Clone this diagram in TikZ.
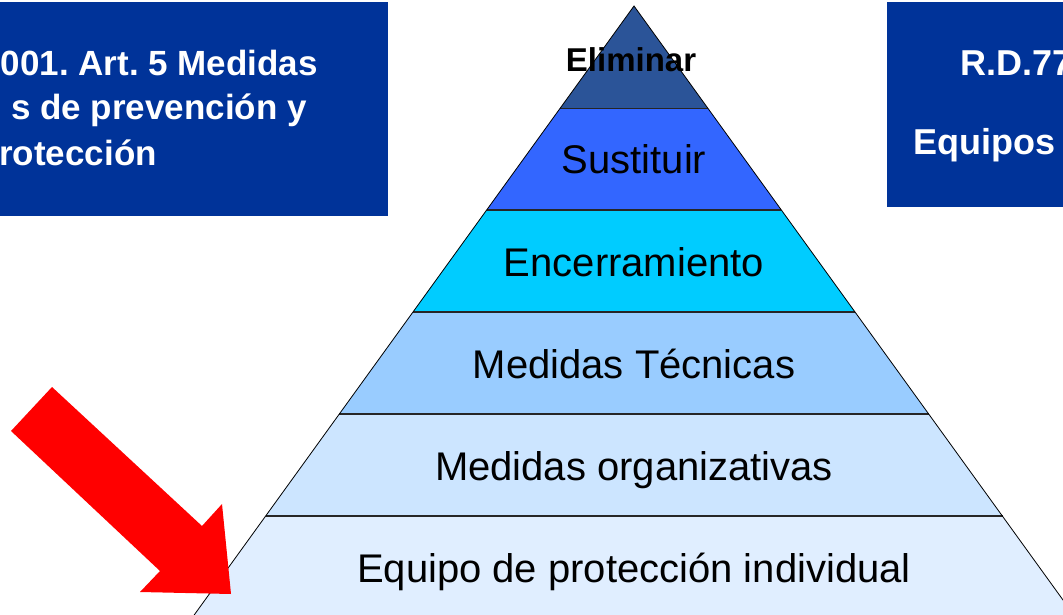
\documentclass[tikz,border=0pt]{standalone}
\usepackage{fontspec}
\setmainfont{Liberation Sans}
\frenchspacing
\definecolor{boxblue}{RGB}{0,51,153}
\definecolor{lvA}{RGB}{43,84,152}
\definecolor{lvB}{RGB}{51,102,255}
\definecolor{lvC}{RGB}{0,204,255}
\definecolor{lvD}{RGB}{153,204,255}
\definecolor{lvE}{RGB}{204,229,255}
\definecolor{lvF}{RGB}{224,238,255}
\definecolor{arrowred}{RGB}{255,0,0}
\begin{document}
\begin{tikzpicture}[x=1pt,y=-1pt,
  lbl/.style={anchor=base, inner sep=0pt, text=black, font=\fontsize{40}{44}\selectfont},
  boxtxt/.style={inner sep=0pt, text=white, font=\fontsize{35}{40}\selectfont\bfseries},
  boxtxtr/.style={inner sep=0pt, text=white, font=\fontsize{36}{40}\selectfont\bfseries},
  sep/.style={draw=black!85, line width=1.6pt},
  side/.style={draw=black, line width=0.8pt}]
\useasboundingbox (0,0) rectangle (1063,615);
\clip (0,0) rectangle (1063,615);
% side boxes
\fill[boxblue] (-10,2) rectangle (388,216);
\fill[boxblue] (887,2) rectangle (1080,207);
\node[boxtxt, anchor=base east] (l1) at (318,76) {001. Art. 5 Medidas};
\node[boxtxt, anchor=base east] (l2) at (307,120) {s de prevención y};
\node[boxtxt, anchor=base east] (l3) at (157,165) {rotección};
\node[boxtxtr, anchor=base west] (r1) at (960,76) {R.D.77};
\node[boxtxtr, anchor=base west] (r2) at (913,155) {Equipos};
% pyramid coordinates
\coordinate (apex) at (634,6);
\coordinate (aL) at (560,108.5);   \coordinate (aR) at (708,108.5);
\coordinate (bL) at (486.6,210);   \coordinate (bR) at (781.4,210);
\coordinate (cL) at (412.9,312);   \coordinate (cR) at (855.1,312);
\coordinate (dL) at (339.2,414);   \coordinate (dR) at (928.8,414);
\coordinate (eL) at (265.5,516);   \coordinate (eR) at (1002.5,516);
\coordinate (fL) at (192,618);     \coordinate (fR) at (1076,618);
% bands
\fill[lvA] (apex) -- (aR) -- (aL) -- cycle;
\fill[lvB] (aL) -- (aR) -- (bR) -- (bL) -- cycle;
\fill[lvC] (bL) -- (bR) -- (cR) -- (cL) -- cycle;
\fill[lvD] (cL) -- (cR) -- (dR) -- (dL) -- cycle;
\fill[lvE] (dL) -- (dR) -- (eR) -- (eL) -- cycle;
\fill[lvF] (eL) -- (eR) -- (fR) -- (fL) -- cycle;
% separators and sides
\draw[sep] (aL) -- (aR);
\draw[sep] (bL) -- (bR);
\draw[sep] (cL) -- (cR);
\draw[sep] (dL) -- (dR);
\draw[sep] (eL) -- (eR);
\draw[side] (fL) -- (apex) -- (fR);
% labels
\node[anchor=base, inner sep=0pt, font=\fontsize{33}{38}\selectfont\bfseries] (elim) at (631,72) {Eliminar};
\node[lbl] (sust) at (634,174) {Sustituir};
\node[lbl] (ence) at (634,276) {Encerramiento};
\node[lbl] (tecn) at (634,378) {Medidas Técnicas};
\node[lbl] (orga) at (634,480) {Medidas organizativas};
\node[lbl] (epi)  at (634,582) {Equipo de protección individual};
% arrow
\fill[arrowred] (52,387) -- (202,526) -- (222,504) -- (231,594) -- (140,592) -- (160,571) -- (11,431) -- cycle;
\end{tikzpicture}
\end{document}
